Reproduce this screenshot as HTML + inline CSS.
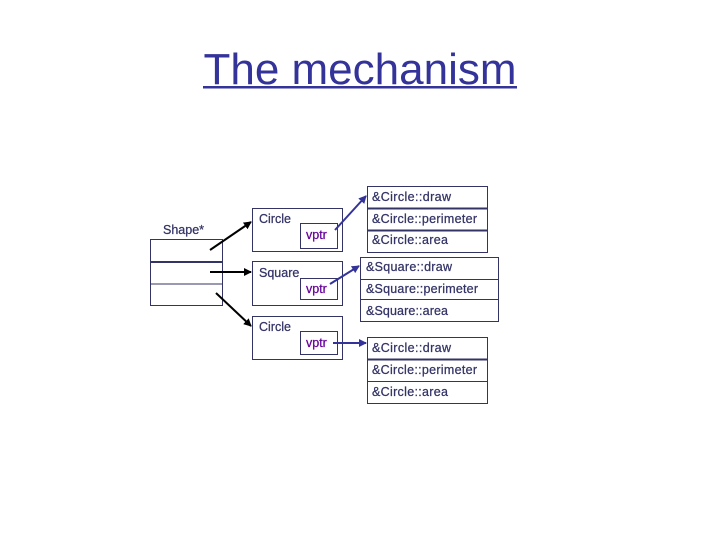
<!DOCTYPE html>
<html><head><style>
html,body{margin:0;padding:0;background:#fff;width:720px;height:540px;overflow:hidden}
text{font-family:"Liberation Sans",Arial,sans-serif}
</style></head><body>
<svg width="720" height="540" viewBox="0 0 720 540" xmlns="http://www.w3.org/2000/svg">
<defs>
<marker id="ab" markerWidth="8" markerHeight="8" refX="7" refY="4" orient="auto" markerUnits="userSpaceOnUse"><path d="M0,0 L8,4 L0,8 z" fill="#000"/></marker>
<marker id="au" markerWidth="8" markerHeight="8" refX="7" refY="4" orient="auto" markerUnits="userSpaceOnUse"><path d="M0,0 L8,4 L0,8 z" fill="#333399"/></marker>
</defs>
<text x="360" y="84" font-size="44" fill="#333399" text-anchor="middle">The mechanism</text>
<rect x="203" y="86" width="314" height="2.5" fill="#333399"/>
<g fill="none" stroke="#333366" stroke-width="1">
<rect x="150.5" y="239.5" width="72" height="66"/>
<line x1="150" y1="262" x2="222" y2="262" stroke-width="2"/>
<line x1="150" y1="284" x2="222" y2="284"/>
<rect x="252.5" y="208.5" width="90" height="43"/>
<rect x="300.5" y="223.5" width="37" height="25"/>
<rect x="252.5" y="261.5" width="90" height="44"/>
<rect x="300.5" y="278.5" width="37" height="21"/>
<rect x="252.5" y="316.5" width="90" height="43"/>
<rect x="300.5" y="331.5" width="37" height="23"/>
<rect x="367.5" y="186.5" width="120" height="66"/>
<line x1="367" y1="208.5" x2="487" y2="208.5" stroke-width="2"/>
<line x1="367" y1="230.5" x2="487" y2="230.5" stroke-width="2"/>
<rect x="360.5" y="257.5" width="138" height="64"/>
<line x1="360" y1="279.5" x2="498" y2="279.5"/>
<line x1="360" y1="299.5" x2="498" y2="299.5"/>
<rect x="367.5" y="337.5" width="120" height="66"/>
<line x1="367" y1="359.5" x2="487" y2="359.5" stroke-width="2"/>
<line x1="367" y1="381.5" x2="487" y2="381.5"/>
</g>
<g stroke="#000" stroke-width="2" fill="none">
<line x1="210" y1="250" x2="251" y2="222" marker-end="url(#ab)"/>
<line x1="210" y1="272" x2="251" y2="272" marker-end="url(#ab)"/>
<line x1="216" y1="293" x2="251" y2="326" marker-end="url(#ab)"/>
</g>
<g stroke="#333399" stroke-width="2" fill="none">
<line x1="335" y1="230" x2="366" y2="196" marker-end="url(#au)"/>
<line x1="330" y1="284" x2="359" y2="266" marker-end="url(#au)"/>
<line x1="333" y1="343" x2="366" y2="343" marker-end="url(#au)"/>
</g>
<g font-size="12.5" fill="#333366" stroke="#333366" stroke-width="0.25">
<text x="163" y="234">Shape*</text>
<text x="259" y="223">Circle</text>
<text x="259" y="277">Square</text>
<text x="259" y="331">Circle</text>
<text x="372" y="201" textLength="79">&amp;Circle::draw</text>
<text x="372" y="223" textLength="105">&amp;Circle::perimeter</text>
<text x="372" y="244" textLength="76">&amp;Circle::area</text>
<text x="366" y="271" textLength="86">&amp;Square::draw</text>
<text x="366" y="293" textLength="112">&amp;Square::perimeter</text>
<text x="366" y="315" textLength="82">&amp;Square::area</text>
<text x="372" y="352" textLength="79">&amp;Circle::draw</text>
<text x="372" y="374" textLength="105">&amp;Circle::perimeter</text>
<text x="372" y="396" textLength="76">&amp;Circle::area</text>
</g>
<g font-size="12.5" fill="#660099" stroke="#660099" stroke-width="0.25">
<text x="306" y="239">vptr</text>
<text x="306" y="293">vptr</text>
<text x="306" y="347">vptr</text>
</g>
</svg>
</body></html>
